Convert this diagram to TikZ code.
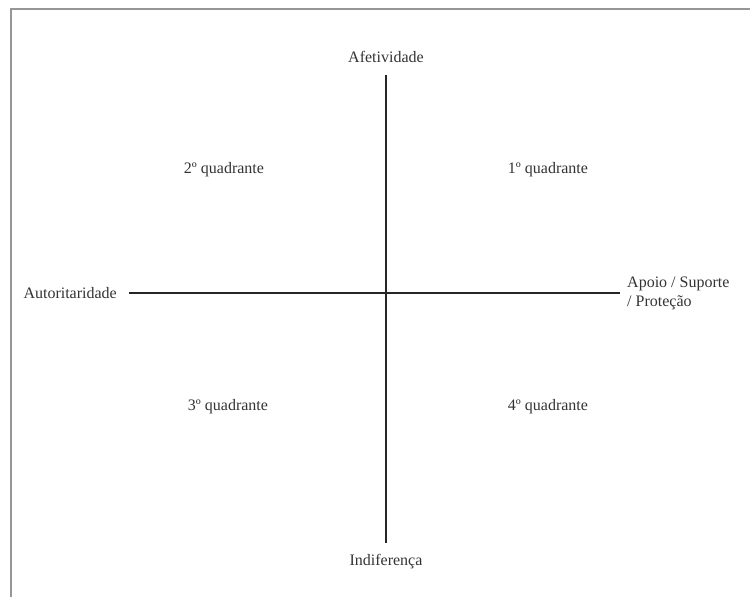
\documentclass[tikz,border=0pt]{standalone}
\usepackage{fontspec}
\setmainfont{Liberation Serif}
\usepackage{xcolor}
\usetikzlibrary{positioning}
\definecolor{framegray}{RGB}{150,150,150}

\begin{document}
\begin{tikzpicture}[x=1pt,y=1pt,font=\fontsize{16}{19}\selectfont,
    axis/.style={draw=black!85,line width=1.6pt},
    axislabel/.style={inner sep=0pt,text=black!80},
    quadlabel/.style={inner sep=0pt,text=black!80}]
    \useasboundingbox (0,0) rectangle (750,597);
    % moldura
    \draw[framegray,line width=2pt] (11,0) -- (11,588) -- (750,588);
    % eixos
    \coordinate (top) at (386,522);
    \coordinate (bottom) at (386,54);
    \coordinate (left) at (129,304);
    \coordinate (right) at (620,304);
    \draw[axis] (top) -- (bottom);
    \draw[axis] (left) -- (right);
    % rotulos dos eixos
    \node[axislabel,above=12pt of top] (afet) {Afetividade};
    \node[axislabel,below=11pt of bottom] (indif) {Indiferença};
    \node[axislabel,left=12pt of left] (autor) {Autoritaridade};
    \node[axislabel,right=7pt of right,align=left] (apoio) {Apoio / Suporte\\/ Proteção};
    % quadrantes
    \node[quadlabel] (q1) at (548,427) {1º quadrante};
    \node[quadlabel] (q2) at (224,427) {2º quadrante};
    \node[quadlabel] (q3) at (228,190) {3º quadrante};
    \node[quadlabel] (q4) at (548,190) {4º quadrante};
  \end{tikzpicture}
\end{document}
